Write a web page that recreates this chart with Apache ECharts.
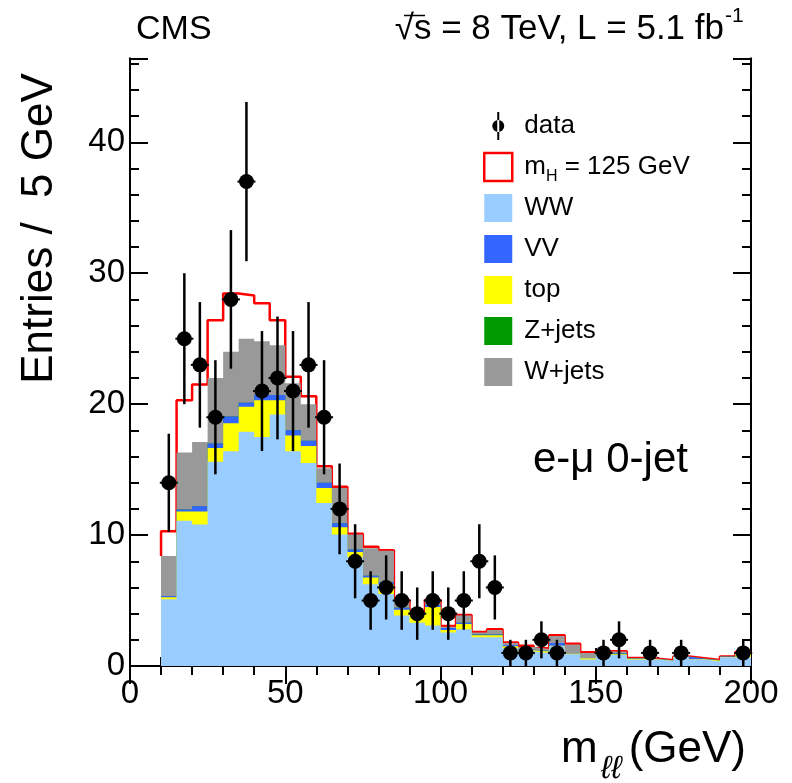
<!DOCTYPE html>
<html><head><meta charset="utf-8">
<script src="https://cdn.jsdelivr.net/npm/echarts@6/dist/echarts.min.js"></script>
<style>html,body{margin:0;padding:0;background:#fff}#c{width:792px;height:783px}</style>
</head><body><div id="c"></div>
<script>
// ---- data ----
const binLow = [10,15,20,25,30,35,40,45,50,55,60,65,70,75,80,85,90,95,100,105,110,115,120,125,130,135,140,145,150,155,160,165,170,175,180,185,190,195];
const binWidth = 5;
const dataCounts = [14,25,23,19,28,37,21,22,21,23,19,12,8,5,6,5,4,5,4,5,8,6,1,1,2,1,0,0,1,2,0,1,0,1,0,0,0,1];
const wwBkg   = [5.1,11.1,10.8,15.6,16.4,17.9,17.5,19.2,16.4,15.5,12.45,10.05,8.3,6.25,5.5,3.85,3.3,3.1,2.55,2.8,2.2,2.2,1.35,1.1,1.0,1.5,0.9,0.5,0.84,0.84,0.5,0.5,0.38,0.66,0.5,0.35,0.66,0.66];
const topBkg  = [0.15,0.7,1.0,1.05,2.15,1.9,2.8,1.1,1.2,1.3,1.15,0.55,0.4,0.5,0.7,0.45,0.6,1.4,0.2,0.4,0.15,0.15,0.15,0.1,0.1,0.05,0.05,0.1,0.06,0.06,0.05,0.02,0.02,0.02,0.02,0.07,0.02,0.34];
const vvBkg   = [0.1,0.15,0.4,0.35,0.5,0.3,0.4,0.4,0.4,0.4,0.4,0.3,0.2,0.15,0.2,0.15,0.1,0.15,0.15,0.1,0.05,0.05,0.1,0.05,0.05,0.2,0.05,0.02,0.05,0.05,0.03,0.02,0.02,0.02,0.04,0.02,0.02,0.02];
const zjetsBkg= [0,0,0,0,0,0,0,0,0,0,0,0,0,0,0,0,0,0,0,0,0,0,0,0,0,0,0,0,0,0,0,0,0,0,0,0,0,0];
const wjetsBkg= [3.05,4.35,4.9,5.0,4.95,4.9,4.1,3.8,3.6,2.8,1.1,2.7,1.15,2.1,2.4,0.55,0.1,0.35,0.1,0.55,0.15,0.35,0.15,0.2,0.15,0.55,0.65,0.38,0.15,0.15,0.02,0.01,0.01,0.02,0.02,0.01,0.02,0.03];
const higgsSig= [1.9,4.0,4.4,4.4,4.45,3.3,2.9,1.9,0.5,0.6,0.15,0.1,0.05,0.1,0.05,0.05,0.05,0.05,0.05,0.05,0.05,0.05,0.05,0.1,0.05,0.05,0.05,0.05,0.02,0.02,0.02,0.01,0.01,0.01,0.02,0.01,0.01,0.02];
const xTickLabels = [0,50,100,150,200];
const yTickLabels = [0,10,20,30,40];

// ---- helpers ----
const FONT = '"Liberation Sans", Arial, Helvetica, sans-serif';
function cum(arrs){ return binLow.map((_, i) => arrs.reduce((s, a) => s + a[i], 0)); }
function stepData(c){
  const d = binLow.map((x, i) => [x, c[i]]);
  d.push([binLow[binLow.length - 1] + binWidth, c[c.length - 1]]);
  return d;
}
const cWW = cum([wwBkg]);
const cTop = cum([wwBkg, topBkg]);
const cVV = cum([wwBkg, topBkg, vvBkg]);
const cZ = cum([wwBkg, topBkg, vvBkg, zjetsBkg]);
const cWj = cum([wwBkg, topBkg, vvBkg, zjetsBkg, wjetsBkg]);
const cH = cum([wwBkg, topBkg, vvBkg, zjetsBkg, wjetsBkg, higgsSig]);
// red outline of (background + signal); it starts on top of the background stack
const redStep = [[binLow[0], cWj[0]]].concat(stepData(cH)).concat([[binLow[binLow.length-1] + binWidth, cWj[cWj.length-1]]]);

const COL = {ww:'#99ccff', vv:'#3366ff', top:'#ffff00', z:'#009900', wj:'#999999', h:'#ff0000'};

function areaSeries(name, data, color, z){
  return {name, type:'line', step:'end', data, symbol:'none', showSymbol:false,
    lineStyle:{width:0, opacity:0}, areaStyle:{color, opacity:1}, itemStyle:{color},
    z, silent:true, animation:false, xAxisIndex:0, yAxisIndex:0};
}

const dataIcon = 'path://M0,0L0.01,0M28,28L27.99,28M13,0L15,0L15,28L13,28ZM8,14A6,6 0 1,0 20,14A6,6 0 1,0 8,14Z';

const YMAX = 46.4;
const axisBase = {
  type:'value', min:0, splitLine:{show:false},
  axisLine:{show:true, lineStyle:{color:'#000', width:2}},
  axisTick:{show:true, inside:true, lineStyle:{color:'#000', width:2}},
};

const chart = echarts.init(document.getElementById('c'), null, {renderer:'canvas'});
chart.setOption({
  animation:false,
  backgroundColor:'#fff',
  grid:{left:130, top:58.5, width:621, height:607.5, containLabel:false},
  xAxis:[
    Object.assign({}, axisBase, {position:'bottom', max:200, interval:50,
      axisTick:{show:true, inside:true, length:18, lineStyle:{color:'#000', width:2}},
      minorTick:{show:true, splitNumber:5, length:9, lineStyle:{color:'#000', width:2}},
      axisLabel:{show:true, fontSize:33, fontFamily:FONT, color:'#000', margin:11,
        formatter: v => xTickLabels.includes(v) ? String(v) : ''}}),
    Object.assign({}, axisBase, {position:'top', max:200, interval:50,
      axisTick:{show:true, inside:true, length:18, lineStyle:{color:'#000', width:2}},
      minorTick:{show:true, splitNumber:5, length:9, lineStyle:{color:'#000', width:2}},
      axisLabel:{show:false}})
  ],
  yAxis:[
    Object.assign({}, axisBase, {position:'left', max:YMAX, interval:10,
      axisTick:{show:true, inside:true, length:18, lineStyle:{color:'#000', width:2}},
      axisLabel:{show:true, fontSize:33, fontFamily:FONT, color:'#000', margin:5,
        formatter: v => yTickLabels.includes(v) ? String(v) : ''}}),
    Object.assign({}, axisBase, {position:'left', max:YMAX, interval:2,
      axisTick:{show:true, inside:true, length:9, lineStyle:{color:'#000', width:2}},
      axisLabel:{show:false}}),
    Object.assign({}, axisBase, {position:'right', max:YMAX, interval:10,
      axisTick:{show:true, inside:true, length:18, lineStyle:{color:'#000', width:2}},
      axisLabel:{show:false}}),
    Object.assign({}, axisBase, {position:'right', max:YMAX, interval:2,
      axisTick:{show:true, inside:true, length:9, lineStyle:{color:'#000', width:2}},
      axisLabel:{show:false}})
  ],
  legend:{
    orient:'vertical', left:483, top:108, padding:0, itemWidth:28, itemHeight:28, itemGap:5,
    selectedMode:false,
    textStyle:{fontFamily:FONT, fontSize:26, color:'#000', lineHeight:36, padding:[0,0,0,7],
      rich:{
        a:{fontFamily:FONT, fontSize:26, color:'#000', lineHeight:36},
        b:{fontFamily:FONT, fontSize:16, color:'#000', lineHeight:16, verticalAlign:'top', padding:[20,0,0,0]}
      }},
    formatter: n => n === 'mH = 125 GeV' ? '{a|m}{b|H}{a| = 125 GeV}' : n,
    data:[
      {name:'data', icon:dataIcon, itemStyle:{color:'#000', borderWidth:0}},
      {name:'mH = 125 GeV', icon:'rect', itemStyle:{color:'#fff', borderColor:COL.h, borderWidth:2.5}},
      {name:'WW', icon:'rect', itemStyle:{color:COL.ww, borderWidth:0}},
      {name:'VV', icon:'rect', itemStyle:{color:COL.vv, borderWidth:0}},
      {name:'top', icon:'rect', itemStyle:{color:COL.top, borderWidth:0}},
      {name:'Z+jets', icon:'rect', itemStyle:{color:COL.z, borderWidth:0}},
      {name:'W+jets', icon:'rect', itemStyle:{color:COL.wj, borderWidth:0}}
    ]
  },
  series:[
    {name:'mH = 125 GeV', type:'line', step:'end', data:redStep, symbol:'none', showSymbol:false,
      lineStyle:{color:COL.h, width:2.5}, itemStyle:{color:COL.h}, z:1, silent:true, xAxisIndex:0, yAxisIndex:0},
    areaSeries('W+jets', stepData(cWj), COL.wj, 2),
    areaSeries('Z+jets', stepData(cZ), COL.z, 3),
    areaSeries('VV', stepData(cVV), COL.vv, 4),
    areaSeries('top', stepData(cTop), COL.top, 5),
    areaSeries('WW', stepData(cWW), COL.ww, 6),
    {name:'data', type:'custom', z:10, xAxisIndex:0, yAxisIndex:0, silent:true,
      itemStyle:{color:'#000'},
      data: binLow.map((x, i) => [x + binWidth / 2, dataCounts[i]]).filter(d => d[1] > 0),
      encode:{x:0, y:1},
      renderItem: (params, api) => {
        const x = api.value(0), v = api.value(1), e = Math.sqrt(v);
        const p = api.coord([x, v]);
        const lo = api.coord([x, v - e]);
        const hi = api.coord([x, v + e]);
        return {type:'group', children:[
          {type:'line', shape:{x1:p[0], y1:lo[1], x2:p[0], y2:hi[1]}, style:{stroke:'#000', lineWidth:2.5}},
          {type:'line', shape:{x1:p[0]-9, y1:p[1], x2:p[0]+9, y2:p[1]}, style:{stroke:'#000', lineWidth:2}},
          {type:'circle', shape:{cx:p[0], cy:p[1], r:7.5}, style:{fill:'#000'}}
        ]};
      }}
  ],
  graphic:[
    {type:'text', x:136, y:29.7, style:{text:'CMS', font:'34px ' + FONT, fill:'#000', align:'left', verticalAlign:'middle'}},
    {type:'text', x:724, y:29.5, style:{text:'\u221As = 8 TeV, L = 5.1 fb', font:'35px ' + FONT, fill:'#000', align:'right', verticalAlign:'middle'}},
    {type:'line', shape:{x1:404, y1:15.5, x2:425, y2:15.5}, style:{stroke:'#000', lineWidth:1.5}},
    {type:'text', x:725, y:16, style:{text:'-1', font:'21px ' + FONT, fill:'#000', align:'left', verticalAlign:'middle'}},
    {type:'text', x:40, y:228.5, rotation:Math.PI/2, style:{text:'Entries /  5 GeV', font:'44px ' + FONT, fill:'#000', align:'center', verticalAlign:'middle'}},
    {type:'text', x:561, y:749.6, style:{text:'m', font:'44px ' + FONT, fill:'#000', align:'left', verticalAlign:'middle'}},
    {type:'text', x:601, y:769.5, style:{text:'\u2113\u2113', font:'italic 32px ' + FONT, fill:'#000', align:'left', verticalAlign:'middle'}},
    {type:'text', x:746, y:749.6, style:{text:'(GeV)', font:'44px ' + FONT, fill:'#000', align:'right', verticalAlign:'middle'}},
    {type:'text', x:533, y:460.3, style:{text:'e-\u03BC 0-jet', font:'42px ' + FONT, fill:'#000', align:'left', verticalAlign:'middle'}}
  ]
});
</script></body></html>
